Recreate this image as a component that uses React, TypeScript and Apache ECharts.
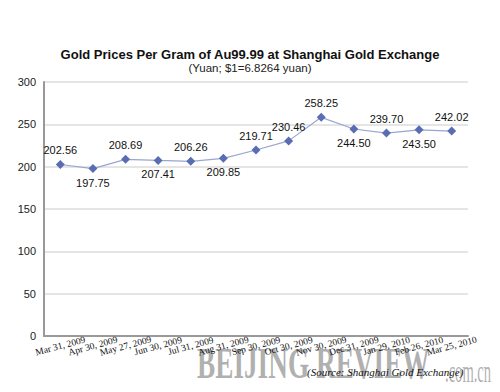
import React, { useEffect, useRef } from "react";
import * as echarts from "echarts";

const categories = [
  "Mar 31, 2009", "Apr 30, 2009", "May 27, 2009", "Jun 30, 2009", "Jul 31, 2009",
  "Aug 31, 2009", "Sep 30, 2009", "Oct 30, 2009", "Nov 30, 2009", "Dec 31, 2009",
  "Jan 29, 2010", "Feb 26, 2010", "Mar 25, 2010",
];
const prices = [202.56, 197.75, 208.69, 207.41, 206.26, 209.85, 219.71, 230.46, 258.25, 244.5, 239.7, 243.5, 242.02];
const labelPos = ["top", "bottom", "top", "bottom", "top", "bottom", "top", "top", "top", "bottom", "top", "bottom", "top"];
const yTicks = { min: 0, max: 300, interval: 50 };

export default function App() {
  const ref = useRef<HTMLDivElement>(null);
  useEffect(() => {
    if (!ref.current) return;
    const chart = echarts.init(ref.current, null, { renderer: "svg" });
    chart.setOption({
      animation: false,
      backgroundColor: "#ffffff",
      title: [
        {
          text: "Gold Prices Per Gram of Au99.99 at Shanghai Gold Exchange",
          left: "center",
          top: 43,
          textStyle: { fontFamily: "Liberation Sans", fontSize: 13, fontWeight: "bold", color: "#111" },
        },
        {
          text: "(Yuan; $1=6.8264 yuan)",
          left: "center",
          top: 57,
          textStyle: { fontFamily: "Liberation Sans", fontSize: 11.5, fontWeight: "normal", color: "#222" },
        },
      ],
      graphic: [
        {
          type: "text",
          left: 197,
          top: 341,
          z: 0,
          scaleX: 0.62,
          style: {
            text: "BEIJING REVIEW",
            font: "bold 44px 'Liberation Serif'",
            fill: "rgba(150,150,150,0.75)",
          },
        },
        {
          type: "text",
          left: 445,
          top: 356,
          z: 0,
          scaleX: 0.47,
          style: {
            text: ".com.cn",
            font: "31px 'Liberation Serif'",
            fill: "rgba(150,150,150,0.75)",
          },
        },
        {
          type: "text",
          left: 307,
          top: 366,
          z: 10,
          style: {
            text: "(Source: Shanghai Gold Exchange)",
            font: "italic 11px 'Liberation Serif'",
            fill: "#111",
          },
        },
      ],
      grid: { left: 44, right: 32, top: 82, bottom: 56, containLabel: false },
      xAxis: {
        type: "category",
        data: categories,
        boundaryGap: true,
        axisLine: { lineStyle: { color: "#999", width: 2 } },
        axisTick: { show: false },
        axisLabel: {
          interval: 0,
          rotate: 15,
          align: "center",
          margin: 10,
          fontFamily: "Liberation Serif",
          fontSize: 9.5,
          color: "#111",
        },
      },
      yAxis: {
        type: "value",
        min: yTicks.min,
        max: yTicks.max,
        interval: yTicks.interval,
        axisLine: { show: true, lineStyle: { color: "#999", width: 2 } },
        axisTick: { show: false },
        splitLine: { lineStyle: { color: "#dcdcdc", width: 1.5 } },
        axisLabel: { fontFamily: "Liberation Sans", fontSize: 11, color: "#222", margin: 8 },
      },
      series: [
        {
          type: "line",
          data: prices.map((v, i) => ({
            value: v,
            label: { position: labelPos[i] },
          })),
          symbol: "diamond",
          symbolSize: 9,
          lineStyle: { color: "#98a6d2", width: 1.2 },
          itemStyle: { color: "#5a6db3" },
          label: {
            show: true,
            formatter: (p: any) => Number(p.value).toFixed(2),
            fontFamily: "Liberation Sans",
            fontSize: 11,
            color: "#111",
            distance: 4,
          },
        },
      ],
    });
    return () => chart.dispose();
  }, []);
  return <div ref={ref} style={{ width: 500, height: 392, position: "absolute", left: 0, top: 0 }} />;
}
